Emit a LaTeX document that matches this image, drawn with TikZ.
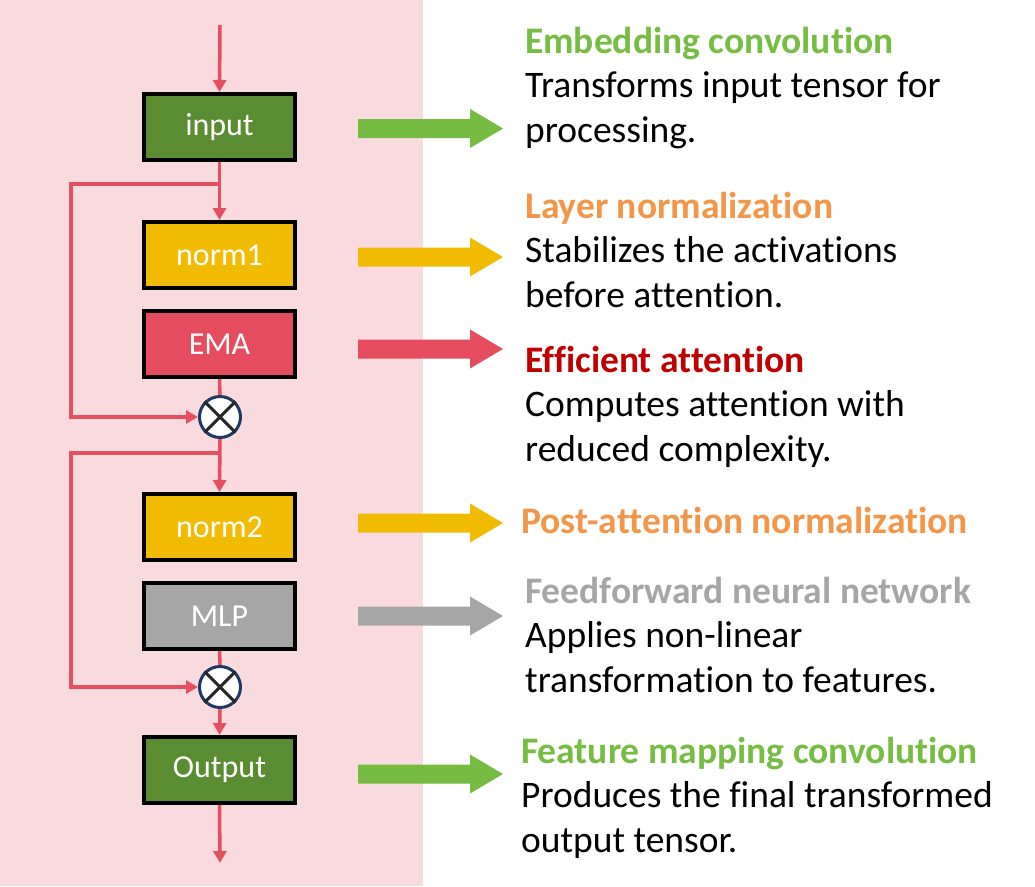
\documentclass[tikz,border=0pt]{standalone}
\usepackage{fontspec}
\setmainfont{Carlito}[RawFeature=-liga]
\usetikzlibrary{arrows.meta}
\definecolor{pinkbg}{HTML}{F9DBDF}
\definecolor{boxgreen}{HTML}{5A8D32}
\definecolor{boxyellow}{HTML}{F1BB02}
\definecolor{boxred}{HTML}{E54C5E}
\definecolor{boxgray}{HTML}{A6A6A6}
\definecolor{linered}{HTML}{E5505F}
\definecolor{navy}{HTML}{1F3864}
\definecolor{argreen}{HTML}{76BC43}
\definecolor{hgreen}{HTML}{76BD44}
\definecolor{horange}{HTML}{F4964A}
\definecolor{hred}{HTML}{C00000}
\definecolor{hgray}{HTML}{A6A6A6}
\newcommand\blockarr[3]{%
  \fill[#1] (358,#2-9.5) -- (470,#2-9.5) -- (470,#2-19.5) -- (503,#2) -- (470,#2+19.5) -- (470,#2+9.5) -- (358,#2+9.5) -- cycle;
  \coordinate (#3) at (503,#2);}
\newcommand\descblock[2]{{\fontsize{37.5}{44.5}\selectfont\begin{tabular}[t]{@{}l@{}}#1\\#2\end{tabular}}}
\tikzset{
  x=1pt,y=-1pt,
  blockbox/.style={draw=black,line width=4pt,minimum width=151pt,minimum height=66pt,inner sep=0pt,
    text=white,font=\fontsize{32}{38}\selectfont},
  mult/.style={circle,draw=navy,line width=3pt,fill=white,minimum size=41pt,inner sep=0pt},
  flow/.style={linered,line width=3.5pt},
  flowarr/.style={flow,-{Triangle[width=13pt,length=12pt]}},
  desc/.style={anchor=base west,inner sep=0pt,align=left,text=black},
}
\begin{document}
\begin{tikzpicture}
\useasboundingbox (0,0) rectangle (1035,886);
\fill[white] (0,0) rectangle (1035,886);
\fill[pinkbg] (0,0) rectangle (423,886);

% boxes
\node[blockbox,fill=boxgreen] (input) at (219.5,127) {input};
\node[blockbox,fill=boxyellow] (norm1) at (219.5,255) {norm1};
\node[blockbox,fill=boxred] (ema) at (219.5,344) {EMA};
\node[blockbox,fill=boxyellow] (norm2) at (219.5,527) {norm2};
\node[blockbox,fill=boxgray] (mlp) at (219.5,616) {MLP};
\node[blockbox,fill=boxgreen] (output) at (219.5,770) {Output};

% multiply circles
\node[mult] (m1) at (220,417) {};
\node[mult] (m2) at (220,687) {};
\foreach \m in {m1,m2}{
  \draw[black!85,line width=3pt] (\m.45) -- (\m.225);
  \draw[black!85,line width=3pt] (\m.135) -- (\m.315);
}

% connectors
\coordinate (top) at (220,25);
\coordinate (bottom) at (220,863);
\coordinate (s1) at (220,184);
\coordinate (s2) at (220,453);
\draw[flowarr] (top) -- (input.north);
\draw[flowarr] (input.south) -- (norm1.north);
\draw[flowarr] (s1) -- (71,184) -- (71,417) -- (m1.west);
\draw[flow] (ema.south) -- (m1.north);
\draw[flowarr] (m1.south) -- (norm2.north);
\draw[flowarr] (s2) -- (71,453) -- (71,687) -- (m2.west);
\draw[flow] (mlp.south) -- (m2.north);
\draw[flowarr] (m2.south) -- (output.north);
\draw[flowarr] (output.south) -- (bottom);

% block arrows
\blockarr{argreen}{128.5}{a1}
\blockarr{boxyellow}{257}{a2}
\blockarr{boxred}{349}{a3}
\blockarr{boxyellow}{523}{a4}
\blockarr{boxgray}{616}{a5}
\blockarr{argreen}{774}{a6}

% descriptions
\node[desc] (t1) at (525,53) {\descblock{\textcolor{hgreen}{\bfseries Embedding convolution}}{Transforms input tensor for\\processing.}};
\node[desc] (t2) at (525,218) {\descblock{\textcolor{horange}{\bfseries Layer normalization}}{Stabilizes the activations\\before attention.}};
\node[desc] (t3) at (525,372) {\descblock{\textcolor{hred}{\bfseries Efficient attention}}{Computes attention with\\reduced complexity.}};
\node[desc] (t4) at (521,533) {{\fontsize{37.5}{44.5}\selectfont\textcolor{horange}{\bfseries Post-attention normalization}}};
\node[desc] (t5) at (525,603) {\descblock{\textcolor{hgray}{\bfseries Feedforward neural network}}{Applies non-linear\\transformation to features.}};
\node[desc] (t6) at (521,763) {\descblock{\textcolor{hgreen}{\bfseries Feature mapping convolution}}{Produces the final transformed\\output tensor.}};
\end{tikzpicture}
\end{document}
